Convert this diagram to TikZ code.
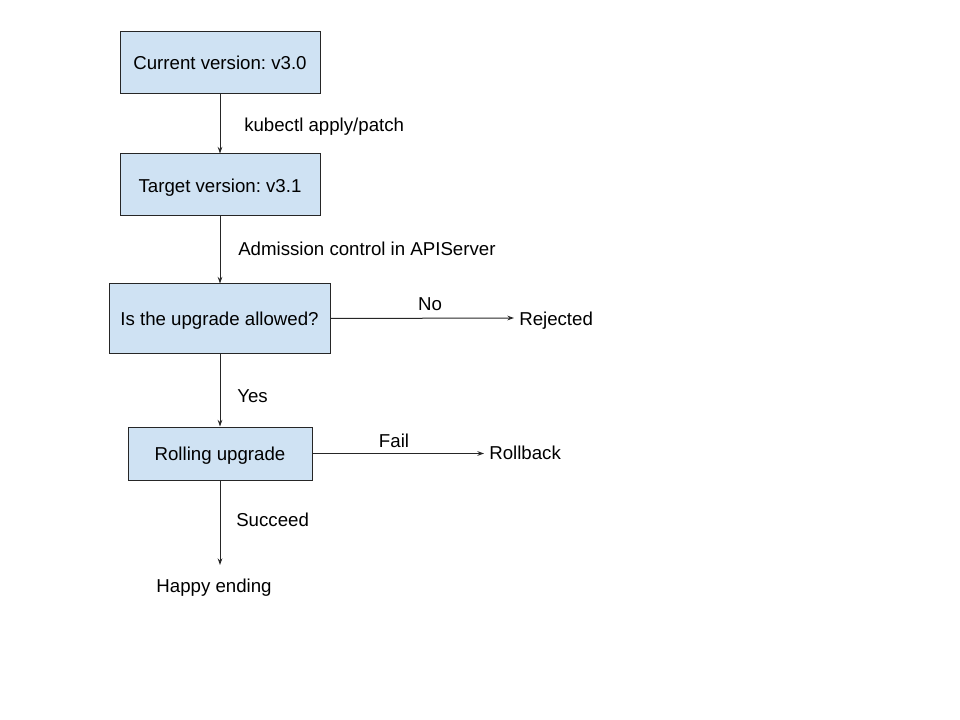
\documentclass[tikz,border=0pt]{standalone}
\usepackage{fontspec}
\setmainfont{Liberation Sans}
\usetikzlibrary{arrows.meta}
\definecolor{boxfill}{HTML}{CFE2F3}
\frenchspacing
\begin{document}
\begin{tikzpicture}[x=0.75pt,y=-0.75pt,
  every node/.style={font=\fontsize{14pt}{16pt}\selectfont, text height=12pt, text depth=1.2pt, inner sep=0pt},
  stepbox/.style={draw=black!85, fill=boxfill, line width=0.75pt, minimum width=#1, inner sep=0pt},
  flow/.style={-{Stealth[length=5pt,width=3.5pt]}, line width=0.75pt, black!85},
  lbl/.style={anchor=west}]
\useasboundingbox (0,0) rectangle (960,720);
\node[stepbox=150pt, minimum height=46pt] (cur) at (220,62.5) {Current version: v3.0};
\node[stepbox=150pt, minimum height=46.5pt] (tgt) at (220,185) {Target version: v3.1};
\node[stepbox=165.75pt, minimum height=51.75pt] (ask) at (219.5,318.5) {Is the upgrade allowed?};
\node[stepbox=138pt, minimum height=39.75pt] (roll) at (220,453.5) {Rolling upgrade};
\node[anchor=west] (rej) at (519,318) {Rejected};
\node[anchor=west] (rb) at (489,452) {Rollback};
\node (happy) at (214,585) {Happy ending};
\coordinate (happyin) at (220,565);
\coordinate (rejin) at (514,318);
\coordinate (rbin) at (484,453.5);
\draw[flow] (cur) -- (tgt);
\draw[flow] (tgt) -- (tgt |- ask.north);
\draw[flow] (ask.east) -- (rejin);
\draw[flow] (ask.south -| roll) -- (roll);
\draw[flow] (roll.east) -- (rbin);
\draw[flow] (roll) -- (happyin);
\node[lbl] (l1) at (244,124) {kubectl apply/patch};
\node[lbl] (l2) at (238,248) {Admission control in APIServer};
\node (l3) at (430,303) {No};
\node[lbl] (l4) at (237,395) {Yes};
\node (l5) at (394,440) {Fail};
\node[lbl] (l6) at (236,519) {Succeed};
\end{tikzpicture}
\end{document}
